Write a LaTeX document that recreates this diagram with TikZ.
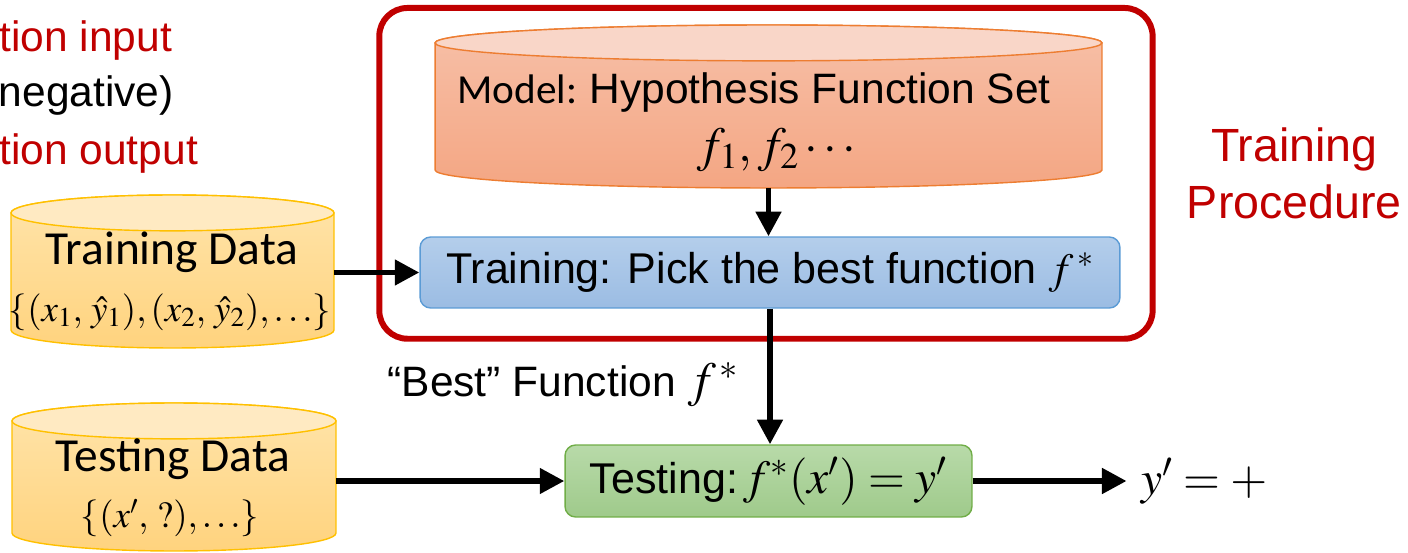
\documentclass[tikz,border=0pt]{standalone}
\usepackage{mathptmx}
\usepackage[no-math]{fontspec}
\setmainfont{Liberation Sans}
\newfontfamily\calibri{Carlito}
\usepackage{tikz}
\usetikzlibrary{arrows.meta,positioning,fit,calc}

\definecolor{slidered}{HTML}{C00000}
\definecolor{datatop}{HTML}{FFE4AA}
\definecolor{databot}{HTML}{FFD37E}
\definecolor{datalid}{HTML}{FFEAC2}
\definecolor{dataline}{HTML}{FFC000}
\definecolor{modeltop}{HTML}{F7C0A8}
\definecolor{modelbot}{HTML}{F4A683}
\definecolor{modellid}{HTML}{F9D6C8}
\definecolor{modelline}{HTML}{ED7D31}
\definecolor{traintop}{HTML}{B4CEEB}
\definecolor{trainbot}{HTML}{9BBCE3}
\definecolor{trainline}{HTML}{5B9BD5}
\definecolor{testtop}{HTML}{B8DAA9}
\definecolor{testbot}{HTML}{9FCA8B}
\definecolor{testline}{HTML}{70AD47}

% drum shape round a node: name, body top, body bottom, lid, line, lid radius
\newcommand{\drum}[6]{%
  \path[draw=#5,line width=0.8pt,top color=#2,bottom color=#3]
    let \p1=(#1.north west), \p2=(#1.south east) in
    (\x1,{\y1-#6}) -- (\x1,{\y2+#6})
    arc[start angle=180,end angle=360,x radius={(\x2-\x1)/2},y radius=#6]
    -- (\x2,{\y1-#6})
    arc[start angle=0,end angle=180,x radius={(\x2-\x1)/2},y radius=#6] -- cycle;
  \path[draw=#5,line width=0.8pt,fill=#4]
    let \p1=(#1.north west), \p2=(#1.south east) in
    ({(\x1+\x2)/2},{\y1-#6}) ellipse[x radius={(\x2-\x1)/2},y radius=#6];
}

\tikzset{
  drumbox/.style={inner sep=0pt,outer sep=0pt},
  note/.style={inner sep=0pt,font=\fontsize{24.2}{29}\selectfont},
  datatext/.style={inner sep=0pt,font=\calibri\fontsize{27}{32}\selectfont},
  mathtext/.style={inner sep=0pt,font=\fontsize{21}{25}\selectfont},
  stepbox/.style={draw,line width=0.8pt,rounded corners=6pt,inner sep=0pt,
    font=\fontsize{24.5}{29}\selectfont},
  procbox/.style={draw=slidered,line width=3.4pt,rounded corners=16pt},
  proclbl/.style={text=slidered,align=center,inner sep=0pt,
    font=\fontsize{26.5}{32}\selectfont},
  flow/.style={line width=3.3pt,-{Triangle[length=14pt,width=14pt]}}
}

\begin{document}
\begin{tikzpicture}[x=0.02cm,y=-0.02cm]
  \useasboundingbox (0,0) rectangle (1408,553);

  % notes cut off at the left edge
  \node[note,text=slidered,anchor=base west] (inlbl) at (-1,52) {tion input};
  \node[note,anchor=base east] (signlbl) at (174,107) {negative)};
  \node[note,text=slidered,anchor=base west] (outlbl) at (-1,165) {tion output};

  % data stores
  \node[drumbox,minimum width=6.46cm,minimum height=3.06cm] (trdata) at (172.5,271.5) {};
  \drum{trdata}{datatop}{databot}{datalid}{dataline}{10.2pt}
  \node[datatext] (trname) at (172,252) {Training Data};
  \node[mathtext] (trset) at (170,312) {$\{(x_1,\,\hat{y}_1),(x_2,\,\hat{y}_2),\ldots\}$};

  \node[drumbox,minimum width=6.48cm,minimum height=2.96cm] (tsdata) at (174,477) {};
  \drum{tsdata}{datatop}{databot}{datalid}{dataline}{10.2pt}
  \node[datatext] (tsname) at (173,459) {Testing Data};
  \node[mathtext] (tsset) at (170,518) {$\{(x',\,?),\ldots\}$};

  % hypothesis set
  \node[drumbox,minimum width=13.34cm,minimum height=3.26cm] (model) at (768.5,106.5) {};
  \drum{model}{modeltop}{modelbot}{modellid}{modelline}{10.2pt}
  \node[inner sep=0pt,font=\fontsize{24.2}{29}\selectfont] (modelname) at (754,93)
    {{\calibri\fontsize{23.5}{28}\selectfont Model: }Hypothesis Function Set};
  \node[inner sep=0pt,font=\fontsize{28}{32}\selectfont] (modelfs) at (777,150) {$f_1,f_2\cdots$};

  % steps
  \node[stepbox,draw=trainline,top color=traintop,bottom color=trainbot,
    minimum width=14cm,minimum height=1.42cm] (train) at (770,272.5)
    {Training: Pick the best function $f^{\,*}$};
  \node[stepbox,draw=testline,top color=testtop,bottom color=testbot,
    minimum width=8.14cm,minimum height=1.44cm] (test) at (768.5,481)
    {Testing:{\fontsize{27}{30}\selectfont$\,f^*(x')=y'$}};
  \node[inner sep=0pt,font=\fontsize{27}{30}\selectfont,right=3.36cm of test] (yout) {$y'=+$};

  \node[procbox,fit=(model)(train),inner xsep=20.5pt,inner ysep=13.4pt,
    xshift=-2.3pt,yshift=-3.7pt] (proc) {};
  \node[proclbl,right=0.62cm of proc] (proclabel) {Training\\Procedure};

  % connectors
  \draw[flow] (model.south) -- (model.south |- train.north);
  \draw[flow] (trdata.east |- train.west) -- (train.west);
  \draw[flow] (train.south) -- (train.south |- test.north)
    node[pos=0.56,left=16pt,inner sep=0pt,font=\fontsize{24.2}{29}\selectfont] (bestlbl)
    {“Best” Function {\fontsize{28}{30}\selectfont$f^{\,*}$}};
  \draw[flow] (tsdata.east |- test.west) -- (test.west);
  \draw[flow] (test.east) -- ([xshift=-8pt]yout.west);
\end{tikzpicture}
\end{document}
